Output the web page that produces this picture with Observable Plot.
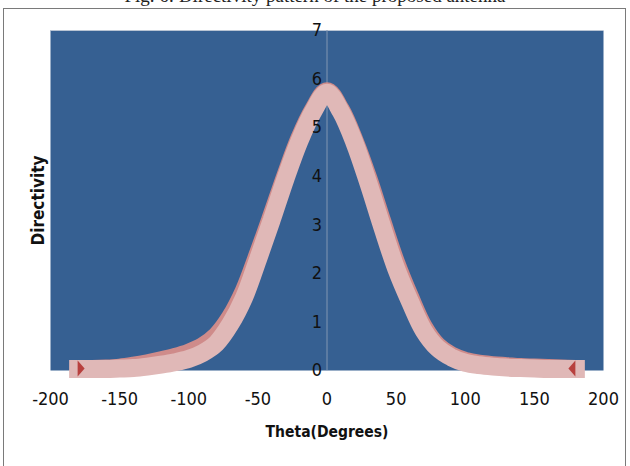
<!DOCTYPE html>
<html>
<head>
<meta charset="utf-8">
<script src="https://cdn.jsdelivr.net/npm/d3@7"></script>
<script src="https://cdn.jsdelivr.net/npm/@observablehq/plot@0.6"></script>
<style>
  html, body { margin: 0; padding: 0; background: #fff; overflow: hidden; }
  #wrap { position: relative; width: 630px; height: 466px; overflow: hidden; }
  #frame { position: absolute; left: 3px; top: 8px; width: 623px; height: 470px; border: 1px solid #7a7a7a; box-sizing: border-box; }
  #title { position: absolute; left: 0; top: -13px; width: 630px; text-align: center; font: 19px "Liberation Serif", serif; line-height: 18px; color: #222; white-space: nowrap; }
  #chart { position: absolute; left: 0; top: 0; }
</style>
</head>
<body>
<div id="wrap">
  <div id="title">Fig. 6: Directivity pattern of the proposed antenna</div>
  <div id="frame"></div>
  <div id="chart"></div>
</div>
<script>
const theta = [-180,-170,-160,-150,-140,-130,-120,-110,-100,-90,-80,-70,-60,-50,-40,-30,-20,-10,0,10,20,30,40,50,60,70,80,90,100,110,120,130,140,150,160,170,180];
const directivityLight = [0.03,0.03,0.03,0.04,0.05,0.08,0.12,0.17,0.24,0.36,0.56,0.95,1.5,2.28,3.1,3.95,4.72,5.33,5.72,5.33,4.68,3.85,2.95,2.1,1.42,0.82,0.46,0.27,0.16,0.11,0.08,0.06,0.05,0.04,0.03,0.03,0.03];
const directivityDark = [0.03,0.03,0.04,0.06,0.1,0.15,0.21,0.28,0.37,0.5,0.72,1.1,1.65,2.4,3.2,4.02,4.78,5.37,5.75,5.37,4.73,3.95,3.07,2.22,1.52,0.9,0.51,0.31,0.2,0.14,0.11,0.09,0.07,0.06,0.05,0.04,0.03];
const xTicks = [-200,-150,-100,-50,0,50,100,150,200];
const yTicks = [0,1,2,3,4,5,6,7];

const light = theta.map((t, i) => ({theta: t, d: directivityLight[i]}));
const dark = theta.map((t, i) => ({theta: t, d: directivityDark[i]}));
const ends = [{theta: theta[0], d: directivityDark[0], r: 90, dx: -8.6}, {theta: theta[theta.length-1], d: directivityDark[directivityDark.length-1], r: -90, dx: 6.6}];

const tickFont = '"Liberation Sans Narrow", "DejaVu Sans Condensed", sans-serif';
const boldFont = '"Liberation Sans Narrow", "DejaVu Sans Condensed", sans-serif';

const chart = Plot.plot({
  width: 630,
  height: 466,
  marginLeft: 50,
  marginRight: 27,
  marginTop: 30,
  marginBottom: 96,
  style: {background: "transparent", overflow: "visible"},
  x: {domain: [-200, 200], axis: null},
  y: {domain: [0, 7], axis: null},
  marks: [
    Plot.frame({fill: "#366092", stroke: null}),
    Plot.ruleY([7], {stroke: "#b9c4d3", strokeWidth: 1}),
    Plot.ruleX([0], {stroke: "#8196b2", strokeWidth: 1}),
    Plot.line(dark, {x: "theta", y: "d", stroke: "#cf8b8a", strokeWidth: 18, strokeLinejoin: "bevel", strokeLinecap: "butt", curve: "catmull-rom"}),
    Plot.line(light, {x: "theta", y: "d", stroke: "#e0b8b7", strokeWidth: 18, strokeLinejoin: "bevel", strokeLinecap: "square", curve: "catmull-rom"}),
    Plot.vector(ends, {x: "theta", y: "d", rotate: "r", dx: "dx", length: 7, r: 8, shape: "spike", anchor: "start", fill: "#b8403e", stroke: null}),
    Plot.text(yTicks, {x: 0, y: d => d, text: d => String(d), dx: -5, textAnchor: "end", fontSize: 18, fontFamily: tickFont, fill: "#111"}),
    Plot.text(xTicks, {x: d => d, y: 0, text: d => String(d), dy: 29, fontSize: 18, fontFamily: tickFont, fill: "#111"}),
    Plot.text(["Directivity"], {frameAnchor: "left", dx: -12, rotate: -90, textAnchor: "middle", text: d => d, fontSize: 17, fontWeight: "bold", fontFamily: boldFont, fill: "#111"}),
    Plot.text(["Theta(Degrees)"], {x: 0, y: 0, dy: 62, text: d => d, fontSize: 15.5, fontWeight: "bold", fontFamily: boldFont, fill: "#111"})
  ]
});
document.getElementById("chart").appendChild(chart);
</script>
</body>
</html>
